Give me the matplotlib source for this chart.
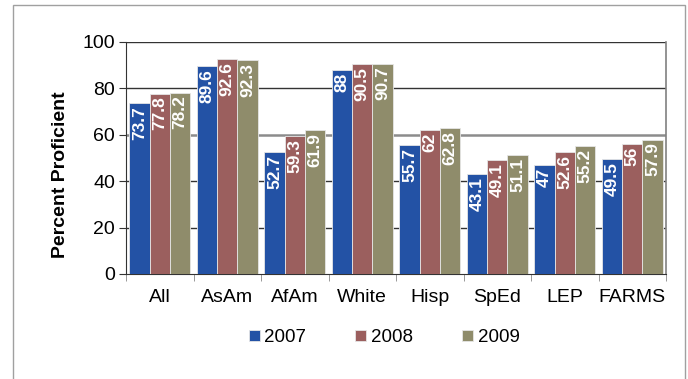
import matplotlib.pyplot as plt
import numpy as np
from matplotlib.patches import Rectangle

groups = ['All', 'AsAm', 'AfAm', 'White', 'Hisp', 'SpEd', 'LEP', 'FARMS']
years = ['2007', '2008', '2009']
v2007 = [73.7, 89.6, 52.7, 88, 55.7, 43.1, 47, 49.5]
v2008 = [77.8, 92.6, 59.3, 90.5, 62, 49.1, 52.6, 56]
v2009 = [78.2, 92.3, 61.9, 90.7, 62.8, 51.1, 55.2, 57.9]
colors = ['#2352a5', '#9b5f5e', '#8f8c6b']

plt.rcParams['font.family'] = ['Liberation Sans', 'DejaVu Sans']

fig = plt.figure(figsize=(6.88, 3.79), dpi=100)
W, H = 688, 379
ax = fig.add_axes([126 / W, 1 - 274 / H, 540 / W, 232 / H])

# outer chart frame
fig.patches.append(Rectangle((13 / W, -0.05), 672 / W, 1 - 5 / H + 0.05,
                             transform=fig.transFigure, fill=False,
                             edgecolor='#a0a0a0', linewidth=1.0))

x = np.arange(len(groups))
bw = 0.3
for i, (vals, c) in enumerate(zip([v2007, v2008, v2009], colors)):
    bars = ax.bar(x + (i - 1) * bw, vals, bw, color=c, edgecolor='#e6e6e6',
                  linewidth=0.6, label=years[i], zorder=3)
    for b, v in zip(bars, vals):
        ax.text(b.get_x() + b.get_width() / 2, v - 1.2, f'{v:g}',
                rotation=90, ha='center', va='top', color='white',
                fontsize=12.5, fontweight='bold', zorder=4)

ax.set_xlim(-0.5, len(groups) - 0.5)
ax.set_ylim(0, 100)
ax.set_yticks(range(0, 101, 20))
ax.tick_params(axis='y', labelsize=14, length=5, color='#333333', pad=3)
ax.set_xticks(x)
ax.set_xticklabels(groups, fontsize=14)
ax.tick_params(axis='x', length=0, pad=11)
# category separator ticks
ax.set_xticks(np.arange(-0.5, len(groups)), minor=True)
ax.tick_params(axis='x', which='minor', length=5, color='#888888')

for y in [20, 40, 80, 100]:
    ax.axhline(y, color='#333333', linewidth=1.0, zorder=1)
ax.axhline(60, color='#8c8c8c', linewidth=1.8, zorder=1)

for s in ['left', 'bottom']:
    ax.spines[s].set_color('#333333')
ax.spines['top'].set_visible(False)
ax.spines['right'].set_color('#808080')
ax.spines['right'].set_linewidth(1.2)

ax.set_ylabel('Percent Proficient', fontsize=14, fontweight='bold')
ax.yaxis.set_label_coords(-0.106, 0.427)

ax.legend(loc='upper center', bbox_to_anchor=(0.478, -0.165), ncol=3,
          frameon=False, fontsize=13.5, handlelength=0.6, handleheight=0.6,
          handletextpad=0.25, columnspacing=2.6)

fig.savefig('out.png', dpi=100)
